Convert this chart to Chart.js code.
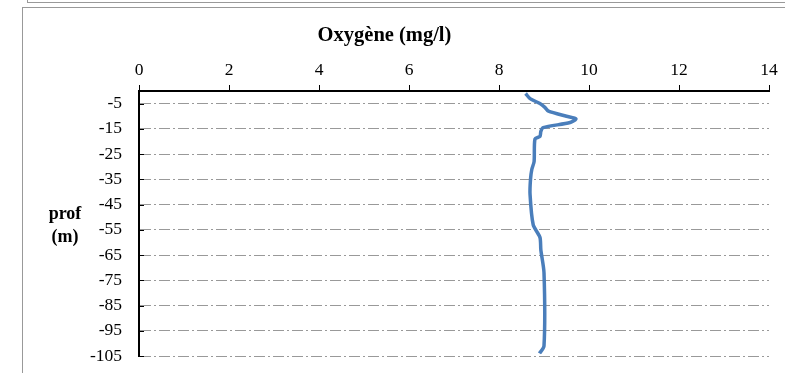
<!DOCTYPE html>
<html>
<head>
<meta charset="utf-8">
<script src="https://cdn.jsdelivr.net/npm/chart.js@4"></script>
<style>
  html, body { margin: 0; padding: 0; background: #fff; overflow: hidden; }
  #prev { position: absolute; left: 27px; top: -20px; width: 900px; height: 21px; border: 1px solid #999; }
  #frame { position: absolute; left: 22px; top: 7px; width: 900px; height: 500px; border: 1px solid #999; }
  #chart { position: absolute; left: 0; top: 0; }
</style>
</head>
<body>
<div id="prev"></div>
<div id="frame"></div>
<canvas id="chart" width="785" height="373"></canvas>
<script>
// oxygen profile: depth (m, negative downwards) and dissolved O2 (mg/l)
var depths = [-1, -3, -5, -6.5, -8, -10, -11, -12.5, -14.5, -16, -18, -19, -28, -31, -35, -41, -53, -58, -63, -72, -101, -104];
var oxygen = [8.59, 8.69, 8.91, 9.02, 9.10, 9.50, 9.71, 9.58, 8.98, 8.93, 8.91, 8.80, 8.78, 8.73, 8.70, 8.69, 8.76, 8.91, 8.93, 9.00, 9.00, 8.90];

var xTicks = [0, 2, 4, 6, 8, 10, 12, 14];
var yTicks = [-5, -15, -25, -35, -45, -55, -65, -75, -85, -95, -105];

var serif = '"Liberation Serif", "Times New Roman", serif';

// horizontal axis title and the short inner tick marks on the depth axis
var extras = {
    id: 'extras',
    beforeDatasetsDraw: function (chart) {
        var ctx = chart.ctx;
        var y = chart.scales.y;
        var left = chart.chartArea.left;
        ctx.save();
        ctx.strokeStyle = '#000';
        ctx.lineWidth = 1;
        y.ticks.forEach(function (t) {
            var py = Math.round(y.getPixelForValue(t.value)) + 0.5;
            ctx.beginPath();
            ctx.moveTo(left, py);
            ctx.lineTo(left + 5, py);
            ctx.stroke();
        });
        ctx.restore();
    },
    afterDraw: function (chart) {
        var ctx = chart.ctx;
        ctx.save();
        ctx.fillStyle = '#000';
        ctx.font = 'bold 18px ' + serif;
        ctx.textAlign = 'center';
        ctx.textBaseline = 'middle';
        ctx.fillText('prof', 65, 214);
        ctx.fillText('(m)', 65, 237);
        ctx.restore();
    }
};

var points = depths.map(function (d, i) {
    return { x: oxygen[i], y: d };
});

new Chart(document.getElementById('chart'), {
    type: 'scatter',
    data: {
        datasets: [{
            data: points,
            showLine: true,
            borderColor: '#4a7ebb',
            borderWidth: 3.5,
            pointRadius: 0,
            tension: 0.25,
            fill: false
        }]
    },
    options: {
        responsive: false,
        animation: false,
        layout: { padding: { left: 0, right: 16, top: 0, bottom: 17 } },
        plugins: {
            legend: { display: false },
            tooltip: { enabled: false },
            title: {
                display: true,
                text: 'Oxygène (mg/l)',
                color: '#000',
                font: { family: serif, size: 20.5, weight: 'bold', lineHeight: 1.2 },
                padding: { top: 23, bottom: 0 }
            }
        },
        scales: {
            x: {
                type: 'linear',
                position: 'top',
                min: 0,
                max: 14,
                afterBuildTicks: function (scale) {
                    scale.ticks = xTicks.map(function (v) { return { value: v }; });
                },
                afterFit: function (scale) { scale.height = 43.4; },
                ticks: {
                    color: '#000',
                    font: { family: serif, size: 17.5 },
                    padding: 4,
                    maxRotation: 0
                },
                grid: {
                    drawOnChartArea: false,
                    drawTicks: true,
                    tickLength: 6,
                    color: '#000',
                    lineWidth: 1
                },
                border: { color: '#000', width: 2 }
            },
            y: {
                type: 'linear',
                min: -105,
                max: 0,
                afterBuildTicks: function (scale) {
                    scale.ticks = yTicks.map(function (v) { return { value: v }; });
                },
                // the label gap is wide, keep it from eating into the plot height
                afterFit: function (scale) {
                    scale.width = 139;
                    scale.paddingTop = 0;
                    scale.paddingBottom = 0;
                },
                ticks: {
                    color: '#000',
                    font: { family: serif, size: 17.5 },
                    padding: 17
                },
                grid: {
                    drawTicks: false,
                    color: '#999',
                    lineWidth: 1
                },
                border: { color: '#000', width: 2, dash: [11, 3, 2, 3] }
            }
        }
    },
    plugins: [extras]
});
</script>
</body>
</html>
